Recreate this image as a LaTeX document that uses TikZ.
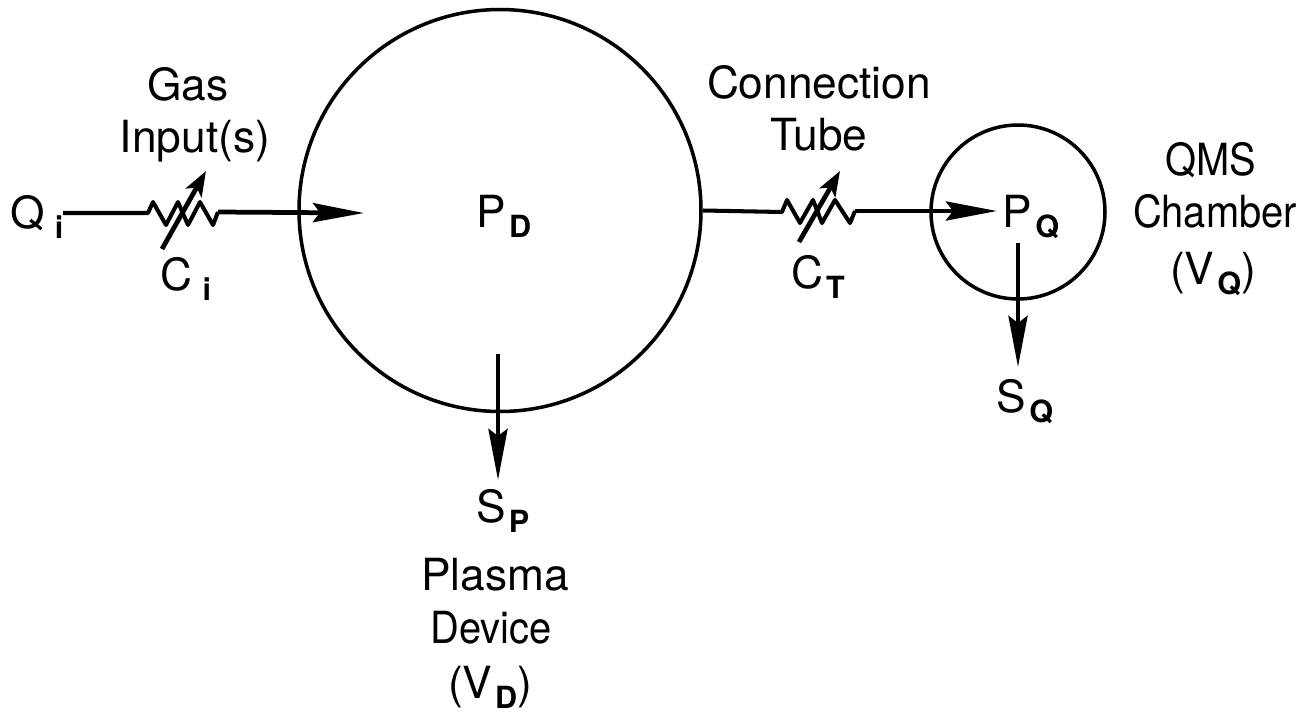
\documentclass[tikz,border=0pt]{standalone}
\usepackage{fontspec}
\setmainfont{TeX Gyre Heros}
\newfontfamily\tightfont[FakeStretch=0.9]{TeX Gyre Heros}
\usepackage{tikz}
\usetikzlibrary{arrows.meta}
\tikzset{
  gvessel/.style={circle, draw=black, fill=none, line width=1pt, inner sep=0pt},
  glabel/.style ={anchor=base, inner sep=0pt, font=\fontsize{12.6}{14}\selectfont, text=black},
  gtight/.style ={glabel, font=\fontsize{12.6}{14}\tightfont},
  gwire/.style  ={line width=1.15pt, black, line join=round},
  gflow/.style  ={line width=1.35pt, black, -{Stealth[length=5.1mm, width=1.9mm, inset=0.7mm]}},
  gtrim/.style  ={line width=1.35pt, black, -{Stealth[length=2.5mm, width=1.8mm, inset=0.6mm]}},
}
\newcommand{\lowtxt}[1]{\hspace{0.8pt}\raisebox{-2.85pt}{\fontsize{8.7}{10}\selectfont\bfseries #1}}

\begin{document}
\begin{tikzpicture}[x=0.1mm, y=-0.1mm]
  \useasboundingbox (0,0) rectangle (1308,712);
  % vessels
  \node[gvessel, minimum size=40.2mm] (dev) at (500,210.5) {};
  \node[gvessel, minimum size=17.4mm] (qms) at (1018,212) {};
  % labels
  \node[glabel] (Qi) at (37,228) {Q\hspace{2pt}\lowtxt{i}};
  \node[glabel] (gas) at (188,100) {Gas};
  \node[glabel] (inp) at (195,152) {Input(s)};
  \node[glabel] (Ci) at (186,290) {C\hspace{2pt}\lowtxt{i}};
  \node[glabel] (PD) at (504,227) {P\lowtxt{D}};
  \node[glabel] (SP) at (503,522) {S\lowtxt{P}};
  \node[glabel] (pla) at (495,590) {Plasma};
  \node[gtight] (dvc) at (491,643) {Device};
  \node[glabel] (VD) at (490,698) {(V\lowtxt{D})};
  \node[glabel] (con) at (819,98) {Connection};
  \node[glabel] (tub) at (819,150) {Tube};
  \node[glabel] (CT) at (818,288) {C\lowtxt{T}};
  \node[glabel] (PQ) at (1031,227) {P\lowtxt{Q}};
  \node[glabel] (SQ) at (1025,412) {S\lowtxt{Q}};
  \node[gtight] (qm) at (1211,175) {QMS};
  \node[gtight] (chb) at (1215,227) {Chamber};
  \node[glabel] (VQ) at (1213,284) {(V\lowtxt{Q})};
  % gas input
  \coordinate (iA) at (63,213);
  \coordinate (iB) at (148,213);
  \coordinate (iC) at (218,212);
  \coordinate (iD) at (364,213);
  \coordinate (iE) at (162,249);
  \coordinate (iF) at (206,171);
  \draw[gwire] (iA) -- (iB) -- (153,202) -- (166,225) -- (178,202) -- (188,225)
    -- (200,202) -- (213,225) -- (iC);
  \draw[gflow] (iC) -- (iD);
  \draw[gtrim] (iE) -- (iF);
  % connection tube
  \coordinate (tB) at (782,212);
  \coordinate (tC) at (855,211);
  \coordinate (tD) at (997,211);
  \coordinate (tE) at (799,242);
  \coordinate (tF) at (840,171);
  \draw[gwire] (dev.east) -- (tB) -- (787,200) -- (800,223) -- (813,200) -- (822,223)
    -- (835,200) -- (850,223) -- (tC);
  \draw[gflow] (tC) -- (tD);
  \draw[gtrim] (tE) -- (tF);
  % pumping
  \coordinate (pA) at (498,354);
  \coordinate (pB) at (498,480);
  \coordinate (qA) at (1018,243);
  \coordinate (qB) at (1018,367);
  \draw[gflow] (pA) -- (pB);
  \draw[gflow] (qA) -- (qB);
\end{tikzpicture}
\end{document}
